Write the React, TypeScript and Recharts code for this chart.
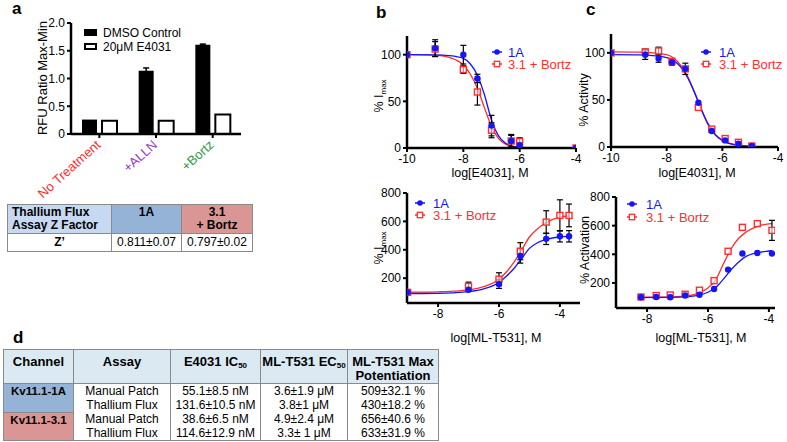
import React from 'react';
import { ComposedChart, BarChart, Bar, Line, Scatter, XAxis, YAxis, ErrorBar } from 'recharts';

const W = 787;
const H = 442;
const FONT = '"Liberation Sans", Arial, Helvetica, sans-serif';
const BLUE = '#1414ff';
const RED = '#ff2e2e';

// ---------- panel a ----------
const aCategories = ['No Treatment', '+ALLN', '+Bortz'];
const aDmso = [0.26, 1.14, 1.61];
const aDmsoErr = [0, 0.05, 0.01];
const aE4031 = [0.24, 0.24, 0.35];
const aYTicks = [0, 0.5, 1, 1.5, 2];
const aLegendNames = ['DMSO Control', '20μM E4031'];
const aCatColors = ['#ff2a2a', '#9a3cc4', '#2f9a45'];

// ---------- panel b top ----------
const bTopX = [-10, -9, -8, -7.5, -7, -6.3, -6, -4];
const bTop1A = [100, 107, 100, 74.5, 24, 7.5, 3, 0];
const bTop1AErr = [0, 9, 10, 4.5, 11, 6, 3, 0];
const bTop31 = [100, 106, 84, 60, 19, 7.5, 7, 0];
const bTop31Err = [0, 8, 4, 14, 8, 7, 4, 0];
const bTopCurveX = [-10, -9, -8.5, -8, -7.75, -7.5, -7.25, -7, -6.75, -6.5, -6.25, -6, -5.5, -5, -4];
const bTopCurve1A = [100, 99.8, 99, 96, 90, 78, 57, 30, 13, 5, 2, 1, 0.2, 0, 0];
const bTopCurve31 = [100, 99.5, 97, 89, 79, 64, 43, 23, 10, 4, 1.5, 0.6, 0.1, 0, 0];

// ---------- panel c top ----------
const cTopX = [-10, -8.77, -8.29, -7.81, -7.33, -6.86, -6.38, -5.9, -5.42, -4.94];
const cTop1A = [100, 98, 94, 90, 83, 47, 17, 7, 3.5, 1];
const cTop1AErr = [0, 5, 4, 3, 6, 0, 0, 0, 0, 0];
const cTop31 = [100, 101, 102, 91, 83, 42, 19, 9, 5, 1];
const cTop31Err = [0, 3, 4, 0, 0, 0, 0, 0, 0, 0];
const cTopCurveX = [-10, -9, -8.5, -8, -7.75, -7.5, -7.25, -7, -6.75, -6.5, -6.25, -6, -5.5, -4.94];
const cTopCurve1A = [98, 97.8, 97, 95, 92, 85, 74, 58, 40, 24, 13, 7, 2, 0.5];
const cTopCurve31 = [101, 100.8, 100, 98, 94.5, 87, 75, 58, 39, 23, 13, 7, 2.2, 0.6];

// ---------- panel b bottom ----------
const bBotX = [-9, -7, -6, -5.3, -4.45, -4, -3.7];
const bBot1A = [100, 118, 158, 356, 477, 495, 495];
const bBot1AErr = [0, 0, 30, 50, 40, 40, 40];
const bBot31 = [100, 142, 193, 390, 595, 642, 642];
const bBot31Err = [0, 30, 45, 60, 80, 110, 80];
const bBotCurveX = [-9, -8.5, -8, -7.5, -7, -6.5, -6, -5.75, -5.5, -5.25, -5, -4.75, -4.5, -4.25, -4, -3.7];
const bBotCurve1A = [92, 92, 93, 97, 105, 125, 170, 215, 270, 340, 410, 448, 470, 483, 490, 494];
const bBotCurve31 = [102, 102, 104, 108, 117, 140, 193, 245, 315, 400, 490, 545, 585, 612, 630, 638];

// ---------- panel c bottom ----------
const cBotX = [-8.2, -7.7, -7.24, -6.75, -6.28, -5.8, -5.34, -4.87, -4.38, -3.9];
const cBot1A = [100, 102, 100, 112, 118, 158, 293, 405, 409, 405];
const cBot31 = [102, 112, 116, 121, 149, 216, 421, 588, 614, 567];
const cBot31Err = [0, 0, 0, 0, 0, 0, 0, 0, 0, 70];
const cBotCurveX = [-8.2, -7.5, -7, -6.5, -6.25, -6, -5.75, -5.5, -5.25, -5, -4.75, -4.5, -4.25, -4, -3.9];
const cBotCurve1A = [98, 99, 101, 108, 117, 135, 168, 225, 290, 345, 385, 405, 416, 423, 426];
const cBotCurve31 = [100, 101, 104, 117, 135, 165, 220, 330, 435, 510, 555, 585, 603, 612, 615];

const seriesNames = ['1A', '3.1 + Bortz'];

// ---------- tables ----------
const zHeader = ['Thallium Flux', 'Assay Z Factor'];
const zCols = ['1A', '3.1', '+ Bortz'];
const zRow = ['Z’', '0.811±0.07', '0.797±0.02'];

const dChannels = ['Kv11.1-1A', 'Kv11.1-3.1'];
const dAssays = ['Manual Patch', 'Thallium Flux', 'Manual Patch', 'Thallium Flux'];
const dIC50 = ['55.1±8.5 nM', '131.6±10.5 nM', '38.6±6.5 nM', '114.6±12.9 nM'];
const dEC50 = ['3.6±1.9 μM', '3.8±1 μM', '4.9±2.4 μM', '3.3± 1 μM'];
const dMax = ['509±32.1 %', '430±18.2 %', '656±40.6 %', '633±31.9 %'];

// ---------- helpers ----------
const pts = (xs: number[], ys: number[], errs?: number[]) =>
  xs.map((x, i) => ({ x, y: ys[i], err: errs && errs[i] ? errs[i] : null }));

const AXIS = { stroke: '#000', strokeWidth: 2.5 };
const TICKLINE = { stroke: '#000', strokeWidth: 2 };
const TICK = { fill: '#000', fontSize: 12, fontFamily: FONT };

const BlueDot = (p: any) => <circle cx={p.cx} cy={p.cy} r={3.2} fill={BLUE} />;
const RedSquare = (p: any) => (
  <rect x={p.cx - 3} y={p.cy - 3} width={6} height={6} fill="#fff" fillOpacity={0.6} stroke={RED} strokeWidth={1.4} />
);

function legendG(x: number, y1: number, y2: number, tx: number) {
  return (
    <g fontFamily={FONT} fontSize={13}>
      <line x1={x} x2={x + 10} y1={y1} y2={y1} stroke={BLUE} strokeWidth={1.5} />
      <circle cx={x + 5} cy={y1} r={2.8} fill={BLUE} />
      <text x={tx} y={y1 + 4.6} fill={BLUE}>{seriesNames[0]}</text>
      <line x1={x} x2={x + 10} y1={y2} y2={y2} stroke={RED} strokeWidth={1.5} />
      <rect x={x + 2.3} y={y2 - 2.7} width={5.4} height={5.4} fill="#fff" stroke={RED} strokeWidth={1.3} />
      <text x={tx} y={y2 + 4.6} fill={RED}>{seriesNames[1]}</text>
    </g>
  );
}

function yTitle(x: number, y: number, node: React.ReactNode, size = 12.5) {
  return (
    <text transform={`translate(${x},${y}) rotate(-90)`} textAnchor="middle" fontFamily={FONT} fontSize={size} fill="#000">
      {node}
    </text>
  );
}

function xTitle(x: number, y: number, s: string) {
  return (
    <text x={x} y={y} textAnchor="middle" fontFamily={FONT} fontSize={12.5} fill="#000">{s}</text>
  );
}

const IMax = (
  <>
    % I<tspan fontSize={8} dy={3}>max</tspan>
  </>
);

type DoseProps = {
  rect: [number, number, number, number];
  xDomain: [number, number];
  xTicks: number[];
  yDomain: [number, number];
  yTicks: number[];
  c1A: { x: number; y: number }[];
  c31: { x: number; y: number }[];
  p1A: any[];
  p31: any[];
  xLabel: React.ReactNode;
  yLabel: React.ReactNode;
};

function DoseChart(props: DoseProps) {
  const [x0, y0, x1, y1] = props.rect;
  const yW = 40;
  const xH = 30;
  return (
    <div style={{ position: 'absolute', left: 0, top: 0, width: W, height: H }}>
      <ComposedChart
        width={W}
        height={H}
        margin={{ left: x0 - yW, top: y0, right: W - x1, bottom: H - y1 - xH }}
      >
        <XAxis
          type="number"
          dataKey="x"
          domain={props.xDomain}
          ticks={props.xTicks}
          allowDataOverflow
          interval={0}
          height={xH}
          axisLine={AXIS}
          tickLine={TICKLINE}
          tickSize={4}
          tick={TICK}
          label={() => props.xLabel}
        />
        <YAxis
          type="number"
          domain={props.yDomain}
          ticks={props.yTicks}
          allowDataOverflow
          interval={0}
          width={yW}
          axisLine={AXIS}
          tickLine={TICKLINE}
          tickSize={4}
          tick={TICK}
          label={() => props.yLabel}
        />
        <Line data={props.c31} dataKey="y" type="monotone" stroke={RED} strokeWidth={1.3} dot={false} isAnimationActive={false} />
        <Line data={props.c1A} dataKey="y" type="monotone" stroke={BLUE} strokeWidth={1.3} dot={false} isAnimationActive={false} />
        <Scatter data={props.p31} dataKey="y" shape={RedSquare} isAnimationActive={false}>
          <ErrorBar dataKey="err" direction="y" width={3} stroke="#000" strokeWidth={1.2} />
        </Scatter>
        <Scatter data={props.p1A} dataKey="y" shape={BlueDot} isAnimationActive={false}>
          <ErrorBar dataKey="err" direction="y" width={3} stroke="#000" strokeWidth={1.2} />
        </Scatter>
      </ComposedChart>
    </div>
  );
}

function BarPanel() {
  const data = aCategories.map((c, i) => ({
    cat: c,
    dmso: aDmso[i],
    dmsoErr: aDmsoErr[i] ? aDmsoErr[i] : null,
    e4031: aE4031[i],
  }));
  const x0 = 71, y0 = 23, x1 = 241, y1 = 134;
  const yW = 40, xH = 30;
  const CatTick = (p: any) => (
    <text
      transform={`translate(${p.x + 2},${p.y + 6}) rotate(-42)`}
      textAnchor="end"
      fontFamily={FONT}
      fontSize={13}
      fill={aCatColors[p.index]}
    >
      {p.payload.value}
    </text>
  );
  const legend = (
    <g fontFamily={FONT} fontSize={12} fill="#000">
      <rect x={84} y={29} width={13} height={7} fill="#000" />
      <text x={103} y={37}>{aLegendNames[0]}</text>
      <rect x={85} y={44} width={11} height={5} fill="#fff" stroke="#000" strokeWidth={2} />
      <text x={103} y={51}>{aLegendNames[1]}</text>
    </g>
  );
  return (
    <div style={{ position: 'absolute', left: 0, top: 0, width: W, height: H }}>
      <BarChart
        width={W}
        height={H}
        data={data}
        barGap={5}
        barSize={15}
        margin={{ left: x0 - yW, top: y0, right: W - x1, bottom: H - y1 - xH }}
      >
        <XAxis
          dataKey="cat"
          interval={0}
          height={xH}
          axisLine={AXIS}
          tickLine={TICKLINE}
          tickSize={4}
          tick={CatTick}
          label={() => legend}
        />
        <YAxis
          domain={[0, 2]}
          ticks={aYTicks}
          interval={0}
          width={yW}
          axisLine={AXIS}
          tickLine={TICKLINE}
          tickSize={4}
          tick={TICK}
          tickFormatter={(v: number) => (v === 0 ? '0' : v.toFixed(1))}
          label={() => yTitle(47, 78, 'RFU Ratio Max-Min', 13)}
        />
        <Bar dataKey="dmso" fill="#000" isAnimationActive={false}>
          <ErrorBar dataKey="dmsoErr" width={3} stroke="#000" strokeWidth={1.5} />
        </Bar>
        <Bar dataKey="e4031" fill="#fff" stroke="#000" strokeWidth={2} isAnimationActive={false} />
      </BarChart>
    </div>
  );
}

const border = '1px solid #8a8a8a';

function ZTable() {
  const cell: React.CSSProperties = { border, padding: 0, verticalAlign: 'top', lineHeight: '13px' };
  return (
    <table
      style={{
        position: 'absolute', left: 7, top: 204, width: 245, borderCollapse: 'collapse',
        tableLayout: 'fixed', fontFamily: FONT, fontSize: 12, color: '#000',
      }}
    >
      <colgroup>
        <col style={{ width: 104 }} />
        <col style={{ width: 70 }} />
        <col style={{ width: 71 }} />
      </colgroup>
      <tbody>
        <tr style={{ height: 29 }}>
          <td style={{ ...cell, background: '#c6d9f1', fontWeight: 'bold', textAlign: 'left', paddingLeft: 4, paddingTop: 1 }}>
            {zHeader[0]}<br />{zHeader[1]}
          </td>
          <td style={{ ...cell, background: '#95b3d7', fontWeight: 'bold', textAlign: 'center', paddingTop: 1 }}>{zCols[0]}</td>
          <td style={{ ...cell, background: '#da9694', fontWeight: 'bold', textAlign: 'center', paddingTop: 1 }}>
            {zCols[1]}<br />{zCols[2]}
          </td>
        </tr>
        <tr style={{ height: 18 }}>
          <td style={{ ...cell, verticalAlign: 'middle', fontWeight: 'bold', textAlign: 'center' }}>{zRow[0]}</td>
          <td style={{ ...cell, verticalAlign: 'middle', textAlign: 'center' }}>{zRow[1]}</td>
          <td style={{ ...cell, verticalAlign: 'middle', textAlign: 'center' }}>{zRow[2]}</td>
        </tr>
      </tbody>
    </table>
  );
}

function DTable() {
  const head: React.CSSProperties = {
    border, padding: 0, paddingTop: 5, verticalAlign: 'top', textAlign: 'center',
    fontWeight: 'bold', background: '#dbeaf2', lineHeight: '14px', fontSize: 13,
  };
  const sub: React.CSSProperties = { fontSize: 8, lineHeight: 0, verticalAlign: '-2px' };
  const body = (i: number): React.CSSProperties => ({
    borderLeft: border, borderRight: border, borderTop: 'none',
    borderBottom: i === 3 ? border : 'none', padding: 0, textAlign: 'center',
    lineHeight: '14px', height: 14, background: '#fff',
  });
  const chan = (bg: string): React.CSSProperties => ({
    border, padding: 0, verticalAlign: 'top', textAlign: 'center', fontWeight: 'bold',
    background: bg, lineHeight: '14px', fontSize: 11.5,
  });
  const rows = [0, 1, 2, 3];
  return (
    <table
      style={{
        position: 'absolute', left: 3, top: 349, width: 435, borderCollapse: 'collapse',
        tableLayout: 'fixed', fontFamily: FONT, fontSize: 12, color: '#000',
      }}
    >
      <colgroup>
        <col style={{ width: 70 }} />
        <col style={{ width: 97 }} />
        <col style={{ width: 90 }} />
        <col style={{ width: 87 }} />
        <col style={{ width: 91 }} />
      </colgroup>
      <tbody>
        <tr style={{ height: 34 }}>
          <td style={head}>Channel</td>
          <td style={head}>Assay</td>
          <td style={head}>E4031 IC<span style={sub}>50</span></td>
          <td style={head}>ML-T531 EC<span style={sub}>50</span></td>
          <td style={head}>ML-T531 Max<br />Potentiation</td>
        </tr>
        {rows.map((i) => (
          <tr key={i} style={{ height: 14 }}>
            {i % 2 === 0 ? (
              <td rowSpan={2} style={chan(i === 0 ? '#95b3d7' : '#da9694')}>{dChannels[i / 2]}</td>
            ) : null}
            <td style={body(i)}>{dAssays[i]}</td>
            <td style={body(i)}>{dIC50[i]}</td>
            <td style={body(i)}>{dEC50[i]}</td>
            <td style={body(i)}>{dMax[i]}</td>
          </tr>
        ))}
      </tbody>
    </table>
  );
}

export default function App() {
  return (
    <div style={{ position: 'absolute', left: 0, top: 0, width: W, height: H, background: '#fff', overflow: 'hidden', fontFamily: FONT }}>
      <BarPanel />
      <DoseChart
        rect={[407, 36, 576, 148]}
        xDomain={[-10, -4]}
        xTicks={[-10, -8, -6, -4]}
        yDomain={[0, 120]}
        yTicks={[0, 50, 100]}
        c1A={pts(bTopCurveX, bTopCurve1A)}
        c31={pts(bTopCurveX, bTopCurve31)}
        p1A={pts(bTopX, bTop1A, bTop1AErr)}
        p31={pts(bTopX, bTop31, bTop31Err)}
        xLabel={<g>{xTitle(490, 177, 'log[E4031], M')}{legendG(492, 52, 64, 508)}</g>}
        yLabel={yTitle(383, 96, IMax)}
      />
      <DoseChart
        rect={[611, 34, 778, 147]}
        xDomain={[-10, -4]}
        xTicks={[-10, -8, -6, -4]}
        yDomain={[0, 120]}
        yTicks={[0, 50, 100]}
        c1A={pts(cTopCurveX, cTopCurve1A)}
        c31={pts(cTopCurveX, cTopCurve31)}
        p1A={pts(cTopX, cTop1A, cTop1AErr)}
        p31={pts(cTopX, cTop31, cTop31Err)}
        xLabel={<g>{xTitle(697, 177, 'log[E4031], M')}{legendG(701, 52, 64, 719)}</g>}
        yLabel={yTitle(588, 100, '% Activity')}
      />
      <DoseChart
        rect={[407, 193, 580, 303]}
        xDomain={[-9.02, -3.34]}
        xTicks={[-8, -6, -4]}
        yDomain={[25, 800]}
        yTicks={[200, 400, 600, 800]}
        c1A={pts(bBotCurveX, bBotCurve1A)}
        c31={pts(bBotCurveX, bBotCurve31)}
        p1A={pts(bBotX, bBot1A, bBot1AErr)}
        p31={pts(bBotX, bBot31, bBot31Err)}
        xLabel={<g>{xTitle(496, 342, 'log[ML-T531], M')}{legendG(415, 203, 215, 433)}</g>}
        yLabel={yTitle(383, 248, IMax)}
      />
      <DoseChart
        rect={[616, 197, 775, 308]}
        xDomain={[-9.02, -3.8]}
        xTicks={[-8, -6, -4]}
        yDomain={[25, 800]}
        yTicks={[200, 400, 600, 800]}
        c1A={pts(cBotCurveX, cBotCurve1A)}
        c31={pts(cBotCurveX, cBotCurve31)}
        p1A={pts(cBotX, cBot1A)}
        p31={pts(cBotX, cBot31, cBot31Err)}
        xLabel={<g>{xTitle(701, 342, 'log[ML-T531], M')}{legendG(627, 204, 217, 646)}</g>}
        yLabel={yTitle(589, 250, '% Activation')}
      />
      <ZTable />
      <DTable />
      <svg width={W} height={H} style={{ position: 'absolute', left: 0, top: 0, pointerEvents: 'none' }}>
        <g fontFamily={FONT} fontWeight="bold" fontSize={17} fill="#000">
          <text x={12} y={14}>a</text>
          <text x={376} y={18}>b</text>
          <text x={586} y={15}>c</text>
          <text x={13} y={343}>d</text>
        </g>
      </svg>
    </div>
  );
}
